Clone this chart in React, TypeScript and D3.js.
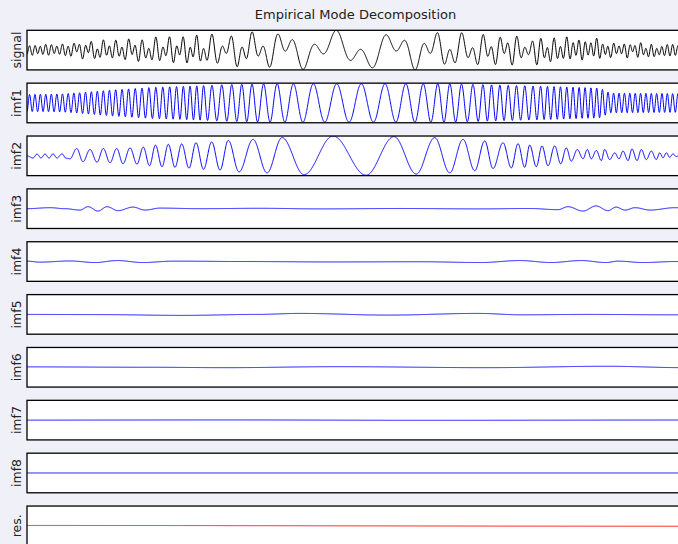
import React from 'react';
import * as d3 from 'd3';

// ---------- data (time axis in samples, 0..657) ----------
const panelLabels = ['signal', 'imf1', 'imf2', 'imf3', 'imf4', 'imf5', 'imf6', 'imf7', 'imf8', 'res.'];
const title = 'Empirical Mode Decomposition';
const sampleRange: [number, number] = [0, 657];

// imf1: local period (samples) and amplitude envelope
const imf1Period: [number, number][] = [
  [0, 5.3], [73, 6], [123, 7], [166, 6.7], [173, 6.6], [180.5, 8.4], [189, 10], [209.7, 10],
  [219.7, 10], [230.5, 11.6], [243, 13.4], [258, 16.3], [276, 20], [297.5, 23.7], [322, 24.8],
  [346.5, 24], [369, 20.8], [388, 17.4], [404, 14.6], [417, 11.7], [429, 11.7], [440.5, 11.6],
  [451.3, 10], [460.5, 8.4], [477, 8.3], [503, 8.3], [518, 6.7], [553, 6], [593, 5.4], [657, 5.3],
];
const imf1Amp: [number, number][] = [
  [0, 0.43], [33, 0.45], [53, 0.52], [83, 0.65], [123, 0.78], [163, 0.85], [203, 0.93],
  [243, 0.97], [423, 0.97], [473, 0.9], [533, 0.82], [573, 0.75], [583, 0.5], [657, 0.47],
];
const imf1PeakAt = 309.7;

// imf2: successive extrema (sample, value)
const imf2Extrema: [number, number][] = [
  [0, 0], [6, -0.11], [10, 0.09], [14, -0.11], [18, 0.09], [22, -0.11], [26, 0.1], [30, -0.11],
  [35, 0.1], [39, -0.12], [43, -0.15], [49.7, 0.37], [56, -0.3], [63, 0.32], [70, -0.32],
  [76.3, 0.37], [83, -0.35], [89.7, 0.37], [96, -0.4], [103, 0.4], [110, -0.42], [116.3, 0.44],
  [122.5, -0.5], [128.5, 0.54], [135, -0.55], [141.3, 0.58], [148, -0.58], [154.7, 0.6],
  [162, -0.62], [169, 0.66], [176.5, -0.68], [184.7, 0.7], [193, -0.72], [201.3, 0.78],
  [212, -0.81], [226, 0.83], [240, -0.86], [255, 0.92], [277, -0.95], [306, 1.0], [339, -0.98],
  [367, 0.97], [389.3, -0.92], [407.7, 0.92], [422.7, -0.86], [436, 0.83], [447.7, -0.75],
  [457.7, 0.75], [466, -0.64], [476, 0.66], [484.3, -0.61], [491, 0.61], [497.7, -0.58],
  [502.7, 0.54], [509.3, -0.55], [515, 0.5], [521, -0.5], [527.7, 0.5], [533.7, -0.4],
  [539.3, 0.4], [544.3, -0.27], [550.3, 0.32], [556, -0.15], [560.3, 0.32], [564.3, -0.15],
  [569.3, 0.27], [574.3, -0.24], [577.7, 0.32], [582.7, -0.19], [587.7, 0.15], [592, -0.15],
  [596, 0.24], [601, -0.24], [605, 0.35], [610, -0.24], [614.3, 0.32], [619.3, -0.19],
  [624.3, 0.24], [629.3, -0.19], [632.7, 0.15], [636, -0.1], [639.3, 0.15], [642.7, -0.07],
  [646, 0.1], [649.3, -0.04], [653, 0.05], [657, 0],
];
const imf3Knots: [number, number][] = [
  [0, 0], [23, 0.05], [38, 0], [53, -0.07], [61, 0.1], [71, -0.12], [80, 0.1], [91, -0.1],
  [106, 0.08], [118, -0.07], [133, 0.03], [173, 0], [233, 0.02], [293, -0.01], [373, 0.01],
  [453, -0.01], [503, 0.01], [531, -0.05], [541, 0.1], [556, -0.12], [569, 0.14], [581, -0.1],
  [589, 0.08], [598, -0.07], [608, 0.05], [623, -0.07], [648, 0.05], [657, 0.03],
];
const imf4Knots: [number, number][] = [
  [0, 0.02], [13, -0.03], [43, 0.03], [68, -0.05], [90, 0.05], [116, -0.05], [146, 0.02],
  [223, 0], [303, -0.02], [393, -0.01], [454, -0.05], [493, 0.05], [524, -0.05], [554, 0.05],
  [579, -0.05], [591, 0.02], [616, -0.05], [648, 0], [657, 0],
];
const imf5Knots: [number, number][] = [
  [0, 0], [73, -0.01], [156, -0.05], [230, 0], [273, 0.05], [361, -0.035], [451, 0.05],
  [494, -0.02], [561, 0], [648, -0.02], [657, -0.02],
];
const imf6Knots: [number, number][] = [
  [0, 0.02], [120, 0], [200, -0.02], [311, 0.03], [460, -0.02], [580, 0.05], [657, -0.02],
];
const imf7Knots: [number, number][] = [[0, 0], [200, 0.01], [400, -0.01], [657, 0.005]];
const imf8Knots: [number, number][] = [[0, 0], [657, 0]];
const resKnots: [number, number][] = [[0, 0.02], [657, -0.02]];

// ---------- helpers ----------
function linear(knots: [number, number][]) {
  const s = d3.scaleLinear().domain(knots.map(k => k[0])).range(knots.map(k => k[1])).clamp(true);
  return (t: number) => s(t);
}
function cosineThrough(knots: [number, number][]) {
  const xs = knots.map(k => k[0]);
  const bis = d3.bisector((d: number) => d).right;
  return (t: number) => {
    let i = bis(xs, t) - 1;
    if (i < 0) i = 0;
    if (i >= knots.length - 1) return knots[knots.length - 1][1];
    const [x0, y0] = knots[i];
    const [x1, y1] = knots[i + 1];
    const u = (t - x0) / (x1 - x0);
    return y0 + (y1 - y0) * (1 - Math.cos(Math.PI * u)) / 2;
  };
}

const dt = 0.25;
const ts = d3.range(sampleRange[0], sampleRange[1] + 1e-6, dt);

function buildImf1(): number[] {
  const per = linear(imf1Period);
  const amp = linear(imf1Amp);
  const phase: number[] = new Array(ts.length).fill(0);
  for (let i = 1; i < ts.length; i++) {
    const mid = (ts[i] + ts[i - 1]) / 2;
    phase[i] = phase[i - 1] + (2 * Math.PI * dt) / per(mid);
  }
  const ai = Math.round(imf1PeakAt / dt);
  const p0 = phase[ai];
  return ts.map((t, i) => amp(t) * Math.cos(phase[i] - p0));
}

const imf1 = buildImf1();
const imf2 = ts.map(cosineThrough(imf2Extrema));
const imf3 = ts.map(cosineThrough(imf3Knots));
const imf4 = ts.map(cosineThrough(imf4Knots));
const imf5 = ts.map(cosineThrough(imf5Knots));
const imf6 = ts.map(cosineThrough(imf6Knots));
const imf7 = ts.map(cosineThrough(imf7Knots));
const imf8 = ts.map(cosineThrough(imf8Knots));
const res = ts.map(cosineThrough(resKnots));
const comps = [imf1, imf2, imf3, imf4, imf5, imf6, imf7, imf8, res];
const signal = ts.map((_, i) => comps.reduce((s, c) => s + c[i], 0));
const series = [signal, ...comps];
const colors = ['#000000', '#0000ff', '#0000ff', '#0000ff', '#0000ff', '#0000ff', '#0000ff', '#0000ff', '#0000ff', '#ff0000'];

// ---------- layout ----------
const W = 678;
const H = 544;
const left = 27;
const right = 684;
const firstTop = 30.3;
const step = 52.86;
const panelH = 39.6;

export default function App() {
  const x = d3.scaleLinear().domain(sampleRange).range([left, right]);
  return (
    <svg width={W} height={H} style={{ position: 'absolute', left: 0, top: 0, display: 'block' }}
      fontFamily="'DejaVu Sans', sans-serif">
      <rect x={0} y={0} width={W} height={H} fill="#f0f0f8" />
      <text x={(left + right) / 2} y={18.5} textAnchor="middle" fontSize={13} fill="#222">{title}</text>
      <defs>
        {panelLabels.map((_, i) => (
          <clipPath id={`clip${i}`} key={i}>
            <rect x={left} y={firstTop + i * step} width={right - left} height={panelH} />
          </clipPath>
        ))}
      </defs>
      {panelLabels.map((lab, i) => {
        const top = firstTop + i * step;
        const dom: [number, number] = i === 0 ? (d3.extent(signal) as [number, number]) : [-1, 1];
        const y = d3.scaleLinear().domain(dom).range([top + panelH, top]);
        const line = d3.line<number>().x((_, j) => x(ts[j])).y(v => y(v));
        return (
          <g key={lab}>
            <rect x={left} y={top} width={right - left} height={panelH} fill="#ffffff" />
            <path d={line(series[i]) || ''} fill="none" stroke={colors[i]} strokeWidth={1}
              clipPath={`url(#clip${i})`} strokeLinejoin="round" />
            <rect x={left} y={top} width={right - left} height={panelH} fill="none" stroke="#000" strokeWidth={1.3} />
            <text transform={`translate(${21.3},${top + panelH / 2}) rotate(-90)`} textAnchor="middle"
              fontSize={12.5} fill="#222">{lab}</text>
          </g>
        );
      })}
    </svg>
  );
}
